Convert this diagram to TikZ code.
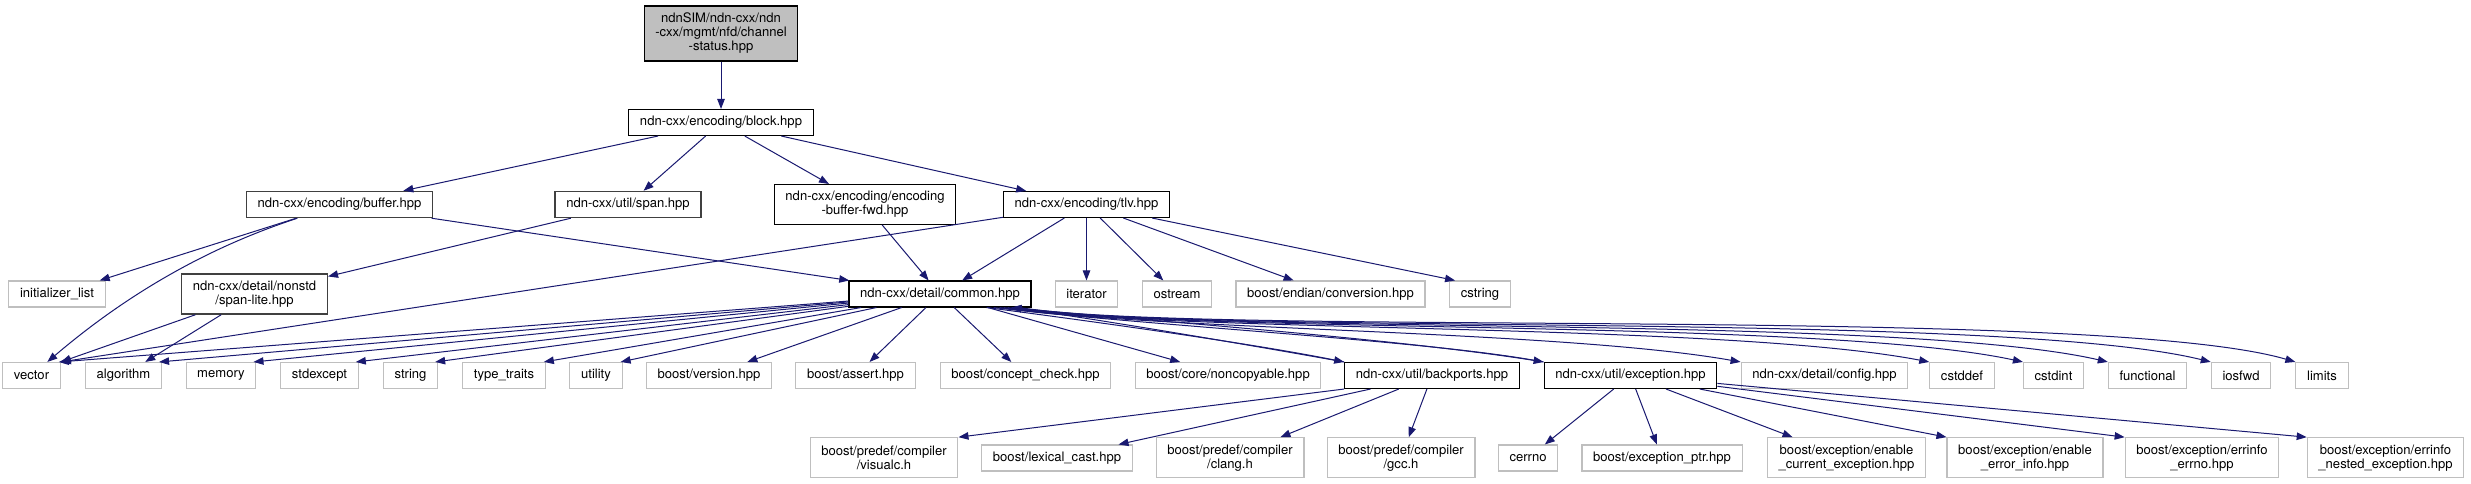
\documentclass[tikz,border=0pt]{standalone}
\usepackage{fontspec}
\setmainfont{TeX Gyre Heros}
\usetikzlibrary{arrows.meta,calc}
\definecolor{edgeblue}{HTML}{191970}
\definecolor{extgray}{HTML}{BFBFBF}
\definecolor{darkb}{HTML}{404040}
\definecolor{topfill}{HTML}{BFBFBF}
\begin{document}
\begin{tikzpicture}[x=0.75pt,y=-0.75pt,
  base/.style={rectangle, inner xsep=8.4pt, inner ysep=0pt, minimum height=19.5pt, align=center,
    font=\fontsize{9.8}{10.5}\selectfont, line width=0.8pt, fill=white},
  docnode/.style={base, draw=black},
  darknode/.style={base, draw=darkb, line width=1.1pt},
  extnode/.style={base, draw=extgray},
  twoline/.style={minimum height=30pt},
  dep/.style={draw=edgeblue, line width=0.75pt, -{Triangle[length=7.5pt,width=5.6pt]}}
]
\fill[white] (0,0) rectangle (2471,484);
\useasboundingbox (0,0) rectangle (2471,484);

% row 1
\node[docnode, fill=topfill, minimum height=41.25pt] (ch) at (721,33.5) {ndnSIM/ndn-cxx/ndn\\-cxx/mgmt/nfd/channel\\-status.hpp};
% row 2
\node[docnode] (blk) at (721,122.5) {ndn-cxx/encoding/block.hpp};
% row 3
\node[darknode] (buf) at (339.5,204.5) {ndn-cxx/encoding/buffer.hpp};
\node[darknode] (spn) at (628,204.5) {ndn-cxx/util/span.hpp};
\node[docnode, twoline] (ebf) at (865,204.5) {ndn-cxx/encoding/encoding\\-buffer-fwd.hpp};
\node[docnode] (tlv) at (1086.5,204.5) {ndn-cxx/encoding/tlv.hpp};
% row 4
\node[extnode] (ilist) at (57,294) {initializer\_list};
\node[darknode, twoline] (slite) at (254.5,294) {ndn-cxx/detail/nonstd\\/span-lite.hpp};
\node[docnode] (com) at (940,294) {ndn-cxx/detail/common.hpp};
\node[extnode] (iter) at (1086.5,294) {iterator};
\node[extnode] (ostr) at (1177,294) {ostream};
\node[extnode] (endn) at (1330.5,294) {boost/endian/conversion.hpp};
\node[extnode] (cstr) at (1480,294) {cstring};
% row 5
\node[extnode] (vec) at (31.5,375.5) {vector};
\node[extnode] (algo) at (123.5,375.5) {algorithm};
\node[extnode] (mem) at (221,375.5) {memory};
\node[extnode] (stdx) at (319.5,375.5) {stdexcept};
\node[extnode] (str) at (410.5,375.5) {string};
\node[extnode] (ttr) at (504,375.5) {type\_traits};
\node[extnode] (util) at (596,375.5) {utility};
\node[extnode] (bver) at (709,375.5) {boost/version.hpp};
\node[extnode] (bass) at (855.5,375.5) {boost/assert.hpp};
\node[extnode] (bcc) at (1025.5,375.5) {boost/concept\_check.hpp};
\node[extnode] (bnc) at (1228,375.5) {boost/core/noncopyable.hpp};
\node[docnode] (bkp) at (1432,375.5) {ndn-cxx/util/backports.hpp};
\node[docnode] (exc) at (1630.5,375.5) {ndn-cxx/util/exception.hpp};
\node[extnode] (cfg) at (1824.5,375.5) {ndn-cxx/detail/config.hpp};
\node[extnode] (cdef) at (1962,375.5) {cstddef};
\node[extnode] (cint) at (2053.5,375.5) {cstdint};
\node[extnode] (func) at (2147.5,375.5) {functional};
\node[extnode] (iosf) at (2241,375.5) {iosfwd};
\node[extnode] (lim) at (2322,375.5) {limits};
% row 6
\node[extnode, twoline] (vis) at (884,457.7) {boost/predef/compiler\\/visualc.h};
\node[extnode] (lex) at (1057,458) {boost/lexical\_cast.hpp};
\node[extnode, twoline] (clg) at (1230,457.7) {boost/predef/compiler\\/clang.h};
\node[extnode, twoline] (gcc) at (1401,457.7) {boost/predef/compiler\\/gcc.h};
\node[extnode] (cerr) at (1528,458) {cerrno};
\node[extnode] (eptr) at (1662,458) {boost/exception\_ptr.hpp};
\node[extnode, twoline] (ecur) at (1846.5,457.7) {boost/exception/enable\\\_current\_exception.hpp};
\node[extnode, twoline] (eerr) at (2025,457.7) {boost/exception/enable\\\_error\_info.hpp};
\node[extnode, twoline] (eno) at (2202,457.7) {boost/exception/errinfo\\\_errno.hpp};
\node[extnode, twoline] (enest) at (2385.5,457.7) {boost/exception/errinfo\\\_nested\_exception.hpp};

% edges
\draw[dep] (ch) -- (blk);
\draw[dep] (blk) -- (buf);
\draw[dep] (blk) -- (spn);
\draw[dep] (blk) -- (ebf);
\draw[dep] (blk) -- (tlv);
\draw[dep] (buf) -- (ilist);
\draw[dep] (buf) .. controls (200,250) and (120,300) .. (vec);
\draw[dep] (buf) -- (com);
\draw[dep] (spn) -- (slite);
\draw[dep] (slite) -- (vec.north east);
\draw[dep] (slite) -- (algo);
\draw[dep] (ebf) -- (com);
\draw[dep] (tlv) -- (com);
\draw[dep] (tlv) -- (vec.north east);
\draw[dep] (tlv) -- (iter);
\draw[dep] (tlv) -- (ostr);
\draw[dep] (tlv) -- (endn);
\draw[dep] (tlv) -- ($(cstr.north west)+(6,0)$);

\draw[dep] (com) -- ($(vec.north east)+(-2,0)$);
\draw[dep] (com) -- ($(algo.north east)+(-3,0)$);
\draw[dep] (com) -- ($(mem.north east)+(-3,0)$);
\draw[dep] (com) -- ($(stdx.north east)+(-3,0)$);
\draw[dep] (com) -- ($(str.north east)+(-3,0)$);
\draw[dep] (com) -- ($(ttr.north east)+(-2,0)$);
\draw[dep] (com) -- ($(util.north east)+(-2,0)$);
\draw[dep] (com) -- (bver);
\draw[dep] (com) -- (bass);
\draw[dep] (com) -- (bcc);
\draw[dep] (com) -- (bnc);

\draw[dep] ($(com.south east)+(-45,0)$) .. controls (1120,325) and (1260,345) .. (bkp.north west);
\draw[dep] ($(com.south east)+(-38,0)$) .. controls (1150,326) and (1420,340) .. (exc.north west);
\draw[dep] ($(com.south east)+(-32,0)$) .. controls (1150,330) and (1560,330) .. (cfg.north west);
\draw[dep] ($(com.south east)+(-28,0)$) .. controls (1160,333) and (1720,322) .. (cdef.north west);
\draw[dep] ($(com.south east)+(-24,0)$) .. controls (1170,334) and (1820,318) .. (cint.north west);
\draw[dep] ($(com.south east)+(-20,0)$) .. controls (1180,335) and (1900,314) .. (func.north west);
\draw[dep] ($(com.south east)+(-16,0)$) .. controls (1190,336) and (2000,310) .. (iosf.north west);
\draw[dep] ($(com.south east)+(-12,0)$) .. controls (1200,337) and (2100,305) .. (lim.north west);

\draw[dep] (bkp.north west) .. controls (1250,345) and (1090,318) .. ($(com.south east)+(-20,0)$);
\draw[dep] (exc.north west) .. controls (1400,338) and (1110,318) .. ($(com.south east)+(-20,0)$);

\draw[dep] (bkp.south west) -- (vis.north east);
\draw[dep] (bkp) -- (lex);
\draw[dep] (bkp) -- (clg);
\draw[dep] (bkp) -- (gcc);
\draw[dep] (exc) -- (cerr);
\draw[dep] (exc) -- (eptr);
\draw[dep] (exc) -- (ecur);
\draw[dep] (exc) -- (eerr.north west);
\draw[dep] (exc) -- (eno.north west);
\draw[dep] (exc) -- (enest.north west);
\end{tikzpicture}
\end{document}
